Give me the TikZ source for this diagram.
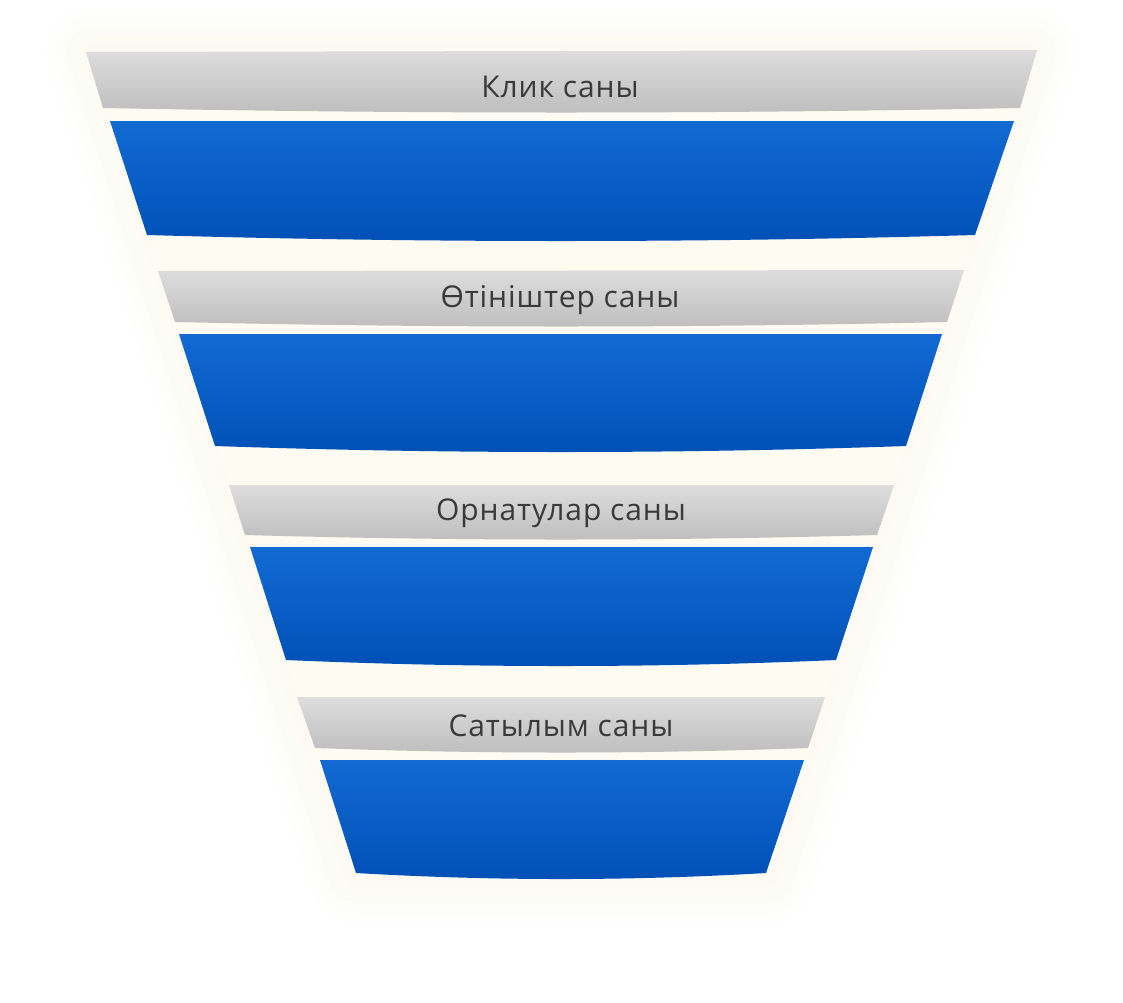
\documentclass[tikz,border=0pt]{standalone}
\usepackage{fontspec}
\setmainfont[LetterSpace=3]{Open Sans}
\definecolor{glowc}{RGB}{252,246,226}
\definecolor{greyT}{RGB}{221,221,221}
\definecolor{greyB}{RGB}{190,190,190}
\definecolor{blueT}{RGB}{18,106,210}
\definecolor{blueM}{RGB}{2,98,224}
\definecolor{blueB}{RGB}{0,80,182}
\definecolor{txt}{RGB}{58,58,58}
\begin{document}
\begin{tikzpicture}[x=1pt,y=-1pt,
  greyband/.style={top color=greyT,bottom color=greyB,draw=none},
  blueband/.style={top color=blueT,bottom color=blueB,draw=none},
  blueband2/.style={top color=blueT,middle color=blueM,bottom color=blueB,draw=none},
  lbl/.style={text=txt,font=\fontsize{30}{34}\selectfont,inner sep=0pt}]
\useasboundingbox[fill=white] (0,0) rectangle (1123,1002);
% glow
\foreach \w in {90,70,50,32,16}{
  \draw[line width=\w pt,draw=glowc,opacity=0.09,line join=round]
    (92,52) -- (1031,52) -- (768,878) -- (354,878) -- cycle;}
\fill[glowc!45!white] (92,52) -- (1031,52) -- (768,878) -- (354,878) -- cycle;
% band 1
\shade[greyband] (86,52) -- (1037,50) -- (1020,108)
  .. controls (715,114) and (408,114) .. (103,108) -- cycle;
\shade[blueband] (110,121) -- (1014,121) -- (975,235)
  .. controls (699,243) and (423,243) .. (147,235) -- cycle;
% band 2
\shade[greyband] (158,271) -- (964,270) -- (947,322)
  .. controls (690,328) and (432,328) .. (175,322) -- cycle;
\shade[blueband2] (179,334) -- (942,334) -- (906,446)
  .. controls (676,454) and (445,454) .. (215,446) -- cycle;
% band 3
\shade[greyband] (229,485) -- (894,485) -- (877,535)
  .. controls (666,541) and (456,541) .. (245,535) -- cycle;
\shade[blueband] (250,547) -- (873,547) -- (836,660)
  .. controls (653,668) and (469,668) .. (286,660) -- cycle;
% band 4
\shade[greyband] (297,697) -- (825,697) -- (808,748)
  .. controls (644,754) and (479,754) .. (315,748) -- cycle;
\shade[blueband] (320,760) -- (804,760) -- (766,873)
  .. controls (629,881) and (493,881) .. (356,873) -- cycle;
% labels
\node[lbl] (t1) at (560,87) {Клик саны};
\node[lbl] (t2) at (560,300) {Өтініштер саны};
\node[lbl] (t3) at (561,513) {Орнатулар саны};
\node[lbl] (t4) at (561,726) {Сатылым саны};
\end{tikzpicture}
\end{document}
